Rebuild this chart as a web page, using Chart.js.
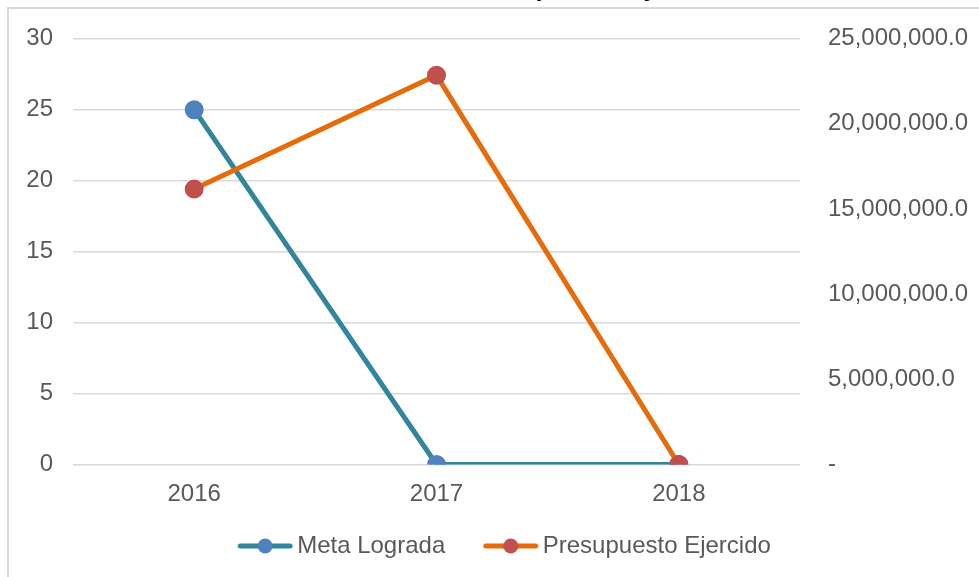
<!DOCTYPE html>
<html>
<head>
<meta charset="utf-8">
<script src="https://cdn.jsdelivr.net/npm/chart.js@4.4.1/dist/chart.umd.min.js"></script>
<style>
  html, body { margin: 0; padding: 0; background: #fff; overflow: hidden; width: 979px; height: 577px; }
  #wrap { position: absolute; left: 0; top: -30px; width: 979px; height: 607px; }
  #frame { position: absolute; left: 7px; top: 7px; width: 1100px; height: 700px; border: 2px solid #d9d9d9; pointer-events: none; }
</style>
</head>
<body>
<div id="wrap"><canvas id="chart"></canvas></div>
<div id="frame"></div>
<script>
// chart values
const years = ['2016', '2017', '2018'];
const metaLograda = [25, 0, 0];
const presupuestoEjercido = [16170000, 22850000, 0];

// legend icon: short line with a dot in the middle, like the spreadsheet legend.
// the visible part sits on the right of the canvas so it leaves a gap before it.
function legendIcon(lineColor, dotColor) {
    const c = document.createElement('canvas');
    c.width = 76;
    c.height = 18;
    const g = c.getContext('2d');
    g.strokeStyle = lineColor;
    g.lineWidth = 5;
    g.lineCap = 'round';
    g.beginPath();
    g.moveTo(23, 9);
    g.lineTo(73, 9);
    g.stroke();
    g.fillStyle = dotColor;
    g.beginPath();
    g.arc(48, 9, 7.5, 0, Math.PI * 2);
    g.fill();
    return c;
}
const icons = [legendIcon('#31859C', '#4F81BD'), legendIcon('#E46C0A', '#C0504D')];

Chart.defaults.font.family = '"Liberation Sans", Arial, sans-serif';
Chart.defaults.font.size = 24;
Chart.defaults.color = '#595959';

const ctx = document.getElementById('chart').getContext('2d');
new Chart(ctx, {
    type: 'line',
    data: {
        labels: years,
        datasets: [{
            label: 'Meta Lograda',
            data: metaLograda,
            yAxisID: 'y',
            borderColor: '#31859C',
            backgroundColor: '#4F81BD',
            pointBackgroundColor: '#4F81BD',
            pointBorderColor: '#4F81BD',
            borderWidth: 5,
            pointRadius: 7,
            tension: 0,
            order: 2
        }, {
            label: 'Presupuesto Ejercido',
            data: presupuestoEjercido,
            yAxisID: 'y1',
            borderColor: '#E46C0A',
            backgroundColor: '#C0504D',
            pointBackgroundColor: '#C0504D',
            pointBorderColor: '#C0504D',
            borderWidth: 5,
            pointRadius: 7,
            tension: 0,
            order: 1
        }]
    },
    options: {
        responsive: true,
        maintainAspectRatio: false,
        animation: false,
        events: [],
        layout: { padding: { left: 26, right: 9, top: 0, bottom: 9 } },
        plugins: {
            title: {
                display: true,
                text: 'Relación Meta - Presupuesto Ejercido',
                color: '#000000',
                font: { size: 26, weight: 'bold' },
                padding: { top: 3, bottom: 34.5 }
            },
            legend: {
                position: 'bottom',
                labels: {
                    usePointStyle: true,
                    pointStyleWidth: 60,
                    padding: 25.5,
                    color: '#595959',
                    sort: (a, b) => a.datasetIndex - b.datasetIndex,
                    generateLabels: function (chart) {
                        const items = Chart.defaults.plugins.legend.labels.generateLabels(chart);
                        items.forEach(it => { it.pointStyle = icons[it.datasetIndex]; });
                        return items;
                    }
                }
            },
            tooltip: { enabled: false }
        },
        scales: {
            x: {
                offset: true,
                grid: { display: false, drawTicks: false },
                border: { display: false },
                ticks: { padding: 15 },
                afterFit: s => { s.height = 44; }
            },
            y: {
                position: 'left',
                min: 0,
                max: 30,
                ticks: { stepSize: 5, padding: 20 },
                grid: { color: '#d9d9d9', lineWidth: 1.5, drawTicks: false },
                border: { display: false },
                afterFit: s => { s.width = 47; }
            },
            y1: {
                position: 'right',
                min: 0,
                max: 25000000,
                ticks: {
                    stepSize: 5000000,
                    padding: 28,
                    callback: v => v === 0 ? '-' : v.toLocaleString('en-US', { minimumFractionDigits: 1, maximumFractionDigits: 1 })
                },
                grid: { display: false, drawTicks: false },
                border: { display: false },
                afterFit: s => { s.width = 170; }
            }
        }
    }
});
</script>
</body>
</html>
